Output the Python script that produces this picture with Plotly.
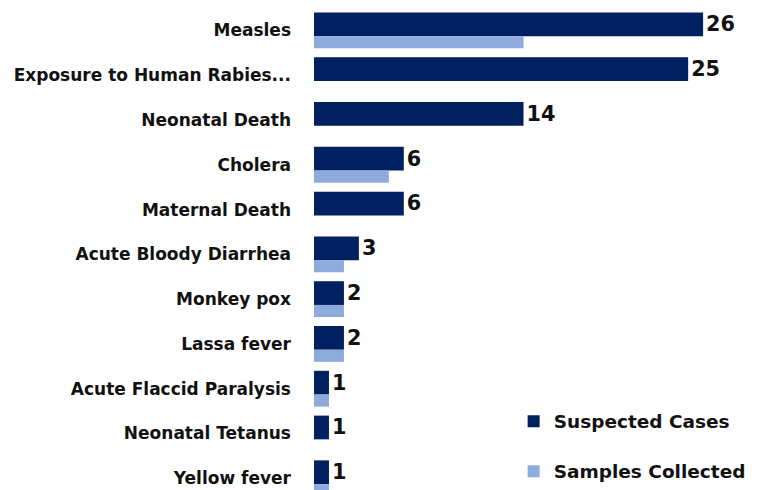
import plotly.graph_objects as go

categories = ["Measles", "Exposure to Human Rabies...", "Neonatal Death", "Cholera",
              "Maternal Death", "Acute Bloody Diarrhea", "Monkey pox", "Lassa fever",
              "Acute Flaccid Paralysis", "Neonatal Tetanus", "Yellow fever"]
suspected_cases = [26, 25, 14, 6, 6, 3, 2, 2, 1, 1, 1]
samples_collected = [14, 0, 0, 5, 0, 2, 2, 2, 1, 0, 1]

DARK = "#002060"
LIGHT = "#8FAADC"
FONT = "DejaVu Sans"

fig = go.Figure()
fig.add_trace(go.Bar(
    y=categories, x=suspected_cases, orientation="h", name="Suspected Cases",
    marker=dict(color=DARK, line=dict(width=0)),
    offset=-0.40, width=0.53,
    text=suspected_cases, textposition="outside", cliponaxis=False,
    textfont=dict(family=FONT, size=21, color="#111111", weight="bold"),
    legendgroup="a",
))
fig.add_trace(go.Bar(
    y=categories, x=samples_collected, orientation="h", name="Samples Collected",
    marker=dict(color=LIGHT, line=dict(width=0)),
    offset=0.13, width=0.27,
    legendgroup="b",
))

fig.update_layout(
    width=760, height=490,
    barmode="overlay",
    margin=dict(l=306, r=20, t=0, b=0, autoexpand=False),
    paper_bgcolor="white", plot_bgcolor="white",
    font=dict(family=FONT, color="#111111"),
    xaxis=dict(visible=False, range=[0, 29]),
    yaxis=dict(
        categoryorder="array", categoryarray=categories,
        range=[10.44, -0.5], showgrid=False, zeroline=False, showline=False,
        ticks="", ticklabelstandoff=22,
        tickfont=dict(family=FONT, size=17, color="#111111", weight="bold"),
    ),
    legend=dict(
        x=0.46, y=0.015, xanchor="left", yanchor="bottom",
        traceorder="grouped", tracegroupgap=23,
        font=dict(family=FONT, size=18.5, color="#111111", weight="bold"),
        bgcolor="rgba(255,255,255,0)",
    ),
    showlegend=True,
)

fig.write_html("out.html")
